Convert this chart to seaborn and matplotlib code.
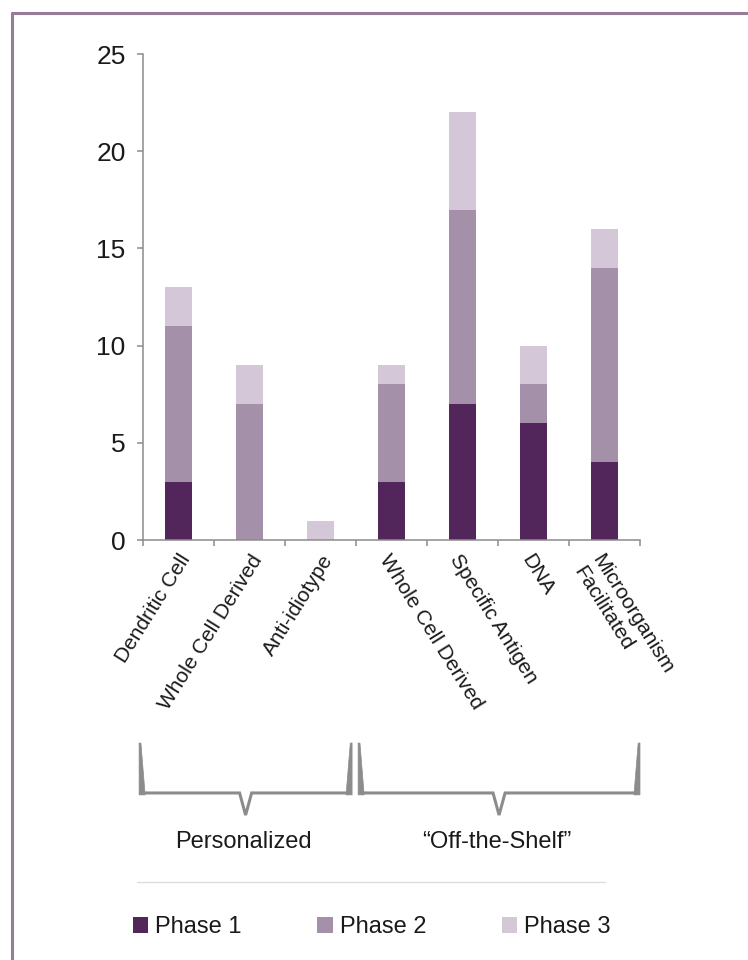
import pandas as pd
import matplotlib
matplotlib.use("Agg")
import matplotlib.pyplot as plt
import matplotlib.transforms as mtransforms
from matplotlib.patches import Patch, Polygon
from matplotlib.lines import Line2D
import seaborn as sns

# data
categories = ["Dendritic Cell", "Whole Cell Derived", "Anti-idiotype",
              "Whole Cell Derived", "Specific Antigen", "DNA",
              "Microorganism\nFacilitated"]
phase1 = [3, 0, 0, 3, 7, 6, 4]
phase2 = [8, 7, 0, 5, 10, 2, 10]
phase3 = [2, 2, 1, 1, 5, 2, 2]
groups = ["Personalized", "\u201cOff-the-Shelf\u201d"]
group_members = [[0, 1, 2], [3, 4, 5, 6]]
phase_names = ["Phase 1", "Phase 2", "Phase 3"]
yticks = [0, 5, 10, 15, 20, 25]

phase_colors = ["#52265a", "#a590a9", "#d4c8d8"]
axis_grey = "#8c8c8c"
text_color = "#1a1a1a"

sns.set_style("white")
plt.rcParams["font.family"] = ["Liberation Sans", "DejaVu Sans"]

df = pd.DataFrame({"pos": range(len(categories)), "p1": phase1, "p2": phase2, "p3": phase3})
df["top2"] = df["p1"] + df["p2"]
df["top3"] = df["top2"] + df["p3"]

fig = plt.figure(figsize=(7.48, 9.6), dpi=100)
ax = fig.add_axes([0.1912, 0.4375, 0.6644, 0.50625])

# stacked bars: draw cumulative totals back to front
for col, color in zip(["top3", "top2", "p1"], phase_colors[::-1]):
    sns.barplot(data=df, x="pos", y=col, color=color, width=0.38,
                linewidth=0, saturation=1, ax=ax)

n = len(categories)
ax.set_xlim(-0.5, n - 0.5)
ax.set_ylim(0, 25)
ax.set_yticks(yticks)
ax.set_xlabel("")
ax.set_ylabel("")

# boundary ticks (major) and centred labels (minor)
ax.set_xticks([i - 0.5 for i in range(n + 1)])
ax.set_xticklabels([])
ax.set_xticks(range(n), minor=True)
ax.set_xticklabels(categories, minor=True)
ax.tick_params(axis="x", which="major", direction="out", length=4.5, width=1.1,
               color=axis_grey, bottom=True)
ax.tick_params(axis="x", which="minor", length=0, pad=8, labelsize=15,
               labelcolor=text_color)
ax.tick_params(axis="y", direction="out", length=4.5, width=1.1, color=axis_grey,
               left=True, labelsize=19, pad=8, labelcolor=text_color)

for i, lbl in enumerate(ax.get_xticklabels(minor=True)):
    lbl.set_rotation_mode("anchor")
    lbl.set_va("top")
    if i in group_members[0]:
        lbl.set_rotation(58)
        lbl.set_ha("right")
    else:
        lbl.set_rotation(-58)
        lbl.set_ha("left")
        lbl.set_multialignment("left")

sns.despine(ax=ax)
for side in ["left", "bottom"]:
    ax.spines[side].set_color(axis_grey)
    ax.spines[side].set_linewidth(1.1)

# group braces: x in data units, y in figure fraction
trans = mtransforms.blended_transform_factory(ax.transData, fig.transFigure)
y_top, y_bot, y_tip = 0.226, 0.174, 0.151
edges = [(-0.555, 2.445), (2.53, 6.5)]
for (x0, x1), name in zip(edges, groups):
    mid = (x0 + x1) / 2
    path_x = [x0 + 0.04, x0 + 0.04, mid - 0.085, mid, mid + 0.085, x1 - 0.04, x1 - 0.04]
    path_y = [y_bot, y_bot, y_bot, y_tip, y_bot, y_bot, y_bot]
    ax.add_line(Line2D(path_x, path_y, transform=trans, color=axis_grey,
                       lw=2.2, clip_on=False, solid_joinstyle="miter"))
    for xa, xb in [(x0, x0 + 0.085), (x1, x1 - 0.085)]:
        ax.add_patch(Polygon([(xa, y_top), (xa + (xb - xa) * 0.3, y_top), (xb, y_bot - 0.002),
                              (xa, y_bot - 0.002)], closed=True, transform=trans,
                             facecolor=axis_grey, edgecolor=axis_grey, lw=0.5, clip_on=False))
    ax.text(mid - 0.03, 0.123, name, transform=trans, ha="center", va="center",
            fontsize=17, color=text_color)

# separator line above legend
fig.add_artist(Line2D([0.183, 0.809], [0.0813, 0.0813], color="#dedede", lw=1))

# legend
handles = [Patch(facecolor=c, edgecolor="none", label=l) for c, l in zip(phase_colors, phase_names)]
fig.legend(handles=handles, loc="center", bbox_to_anchor=(0.497, 0.034), ncol=3,
           frameon=False, handlelength=0.65, handleheight=0.65, handletextpad=0.3,
           columnspacing=3.2, fontsize=17, labelcolor=text_color)

# outer frame (top and left edges)
frame_color = "#957c97"
fig.add_artist(Line2D([0.016, 1.0], [0.9865, 0.9865], color=frame_color, lw=2.2))
fig.add_artist(Line2D([0.016, 0.016], [0.0, 0.9865], color=frame_color, lw=2.2))

fig.savefig("out.png", dpi=100)
